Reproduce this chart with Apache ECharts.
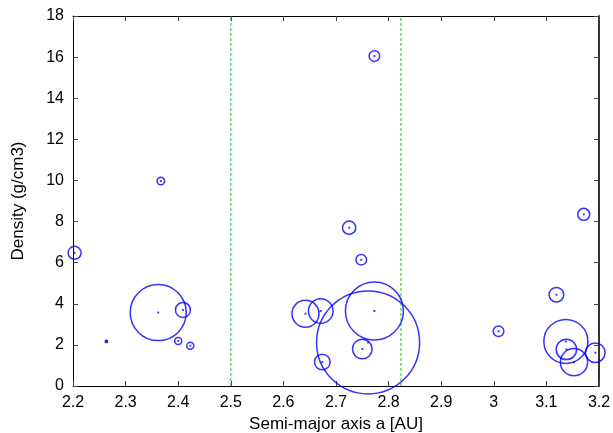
<!DOCTYPE html>
<html>
<head>
<meta charset="utf-8">
<script src="https://cdn.jsdelivr.net/npm/echarts@6/dist/echarts.min.js"></script>
<style>
  html, body { margin: 0; padding: 0; background: #fff; }
  #chart { width: 613px; height: 433px; }
</style>
</head>
<body>
<div id="chart"></div>
<script>
// Semi-major axis (AU) of each body
var semiMajor = [2.203, 2.2635, 2.362, 2.367, 2.400, 2.409, 2.423, 2.642, 2.671, 2.674,
                 2.725, 2.748, 2.750, 2.761, 2.773, 2.773, 3.009, 3.119, 3.137, 3.138,
                 3.1525, 3.171, 3.193];
// Bulk density (g/cm3)
var density = [6.48, 2.17, 3.57, 9.97, 2.19, 3.70, 1.96, 3.52, 3.65, 1.17,
               7.70, 6.14, 1.80, 2.12, 3.65, 16.05, 2.66, 4.44, 2.17, 1.78,
               1.16, 8.35, 1.62];
// Relative size of each body (bubble radius)
var bodySize = [6.5, 1.2, 28, 3.8, 3.5, 7.5, 3.5, 13.5, 12.3, 7.8,
                6.6, 5.3, 9.8, 51.5, 29, 5.3, 5.3, 7.3, 22, 10.2,
                13.6, 6, 9.8];
// Region boundaries (Kirkwood gaps)
var gapLines = [2.5, 2.8235];
var xTicks = { min: 2.2, max: 3.2, step: 0.1 };
var yTicks = { min: 0, max: 18, step: 2 };

var points = semiMajor.map(function (a, i) { return [a, density[i], bodySize[i]]; });
var centers = semiMajor.map(function (a, i) { return [a, density[i]]; });

var fontFamily = '"Liberation Sans", Arial, sans-serif';
var blue = '#0000ff';
var green = '#22c422';

var chart = echarts.init(document.getElementById('chart'), null, { renderer: 'canvas' });

function baseX(show) {
  return {
    type: 'value', min: xTicks.min, max: xTicks.max, interval: xTicks.step,
    axisLine: { show: true, onZero: false, lineStyle: { color: '#000', width: 1 } },
    axisTick: { show: true, inside: true, length: 5, lineStyle: { color: '#444' } },
    axisLabel: { show: show, color: '#000', fontSize: 16, fontFamily: fontFamily, margin: 9 },
    splitLine: { show: false }
  };
}
function baseY(show) {
  return {
    type: 'value', min: yTicks.min, max: yTicks.max, interval: yTicks.step,
    axisLine: { show: true, onZero: false, lineStyle: { color: show ? '#000' : '#333', width: show ? 1 : 2 } },
    axisTick: { show: true, inside: true, length: 5, lineStyle: { color: '#444' } },
    axisLabel: { show: show, color: '#000', fontSize: 16, fontFamily: fontFamily, margin: 9 },
    splitLine: { show: false }
  };
}

var xBottom = baseX(true);
xBottom.position = 'bottom';
xBottom.name = 'Semi-major axis a [AU]';
xBottom.nameLocation = 'middle';
xBottom.nameGap = 30;
xBottom.nameTextStyle = { color: '#000', fontSize: 17, fontFamily: fontFamily };
var xTop = baseX(false);
xTop.position = 'top';

var yLeft = baseY(true);
yLeft.position = 'left';
yLeft.name = 'Density (g/cm3)';
yLeft.nameLocation = 'middle';
yLeft.nameGap = 46;
yLeft.nameTextStyle = { color: '#000', fontSize: 17, fontFamily: fontFamily };
var yRight = baseY(false);
yRight.position = 'right';

// vertical dashed boundaries spanning the whole density range
var gapSeries = gapLines.map(function (x) {
  return {
    type: 'line',
    xAxisIndex: 0, yAxisIndex: 0,
    data: [[x, yTicks.min], [x, yTicks.max]],
    symbol: 'none',
    silent: true,
    lineStyle: { color: green, type: [3, 2], width: 1 },
    emphasis: { disabled: true },
    z: 2
  };
});

chart.setOption({
  animation: false,
  backgroundColor: '#fff',
  grid: { left: 73, right: 14, top: 16, bottom: 47, containLabel: false, outerBoundsMode: 'none' },
  xAxis: [xBottom, xTop],
  yAxis: [yLeft, yRight],
  series: gapSeries.concat([
    {
      type: 'scatter',
      xAxisIndex: 0, yAxisIndex: 0,
      data: points,
      symbol: 'circle',
      symbolSize: function (v) { return v[2] * 2; },
      itemStyle: { color: 'rgba(0,0,0,0)', borderColor: blue, borderWidth: 1.5 },
      emphasis: { disabled: true },
      z: 3
    },
    {
      type: 'scatter',
      xAxisIndex: 0, yAxisIndex: 0,
      data: centers,
      symbol: 'rect',
      symbolSize: 2,
      itemStyle: { color: blue, opacity: 0.75 },
      emphasis: { disabled: true },
      z: 4
    }
  ])
});
</script>
</body>
</html>
